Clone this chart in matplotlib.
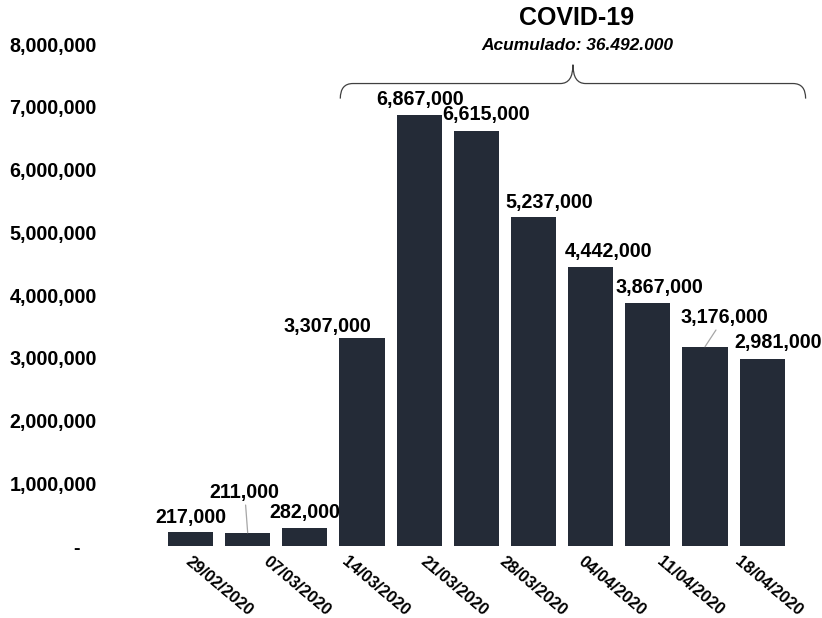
import numpy as np
import matplotlib
matplotlib.use("Agg")
import matplotlib.pyplot as plt
from matplotlib.path import Path
from matplotlib.patches import PathPatch
from matplotlib.ticker import FuncFormatter

# datos semanales
valores = [217000, 211000, 282000, 3307000, 6867000, 6615000,
           5237000, 4442000, 3867000, 3176000, 2981000]
fechas = ["29/02/2020", "07/03/2020", "14/03/2020", "21/03/2020",
          "28/03/2020", "04/04/2020", "11/04/2020", "18/04/2020"]
titulo = "COVID-19"
subtitulo = "Acumulado: 36.492.000"

# desplazamiento de las etiquetas (pixeles) y cuales llevan linea guia
offsets = [(0, 15), (-3, 40), (0, 16), (-35, 12), (1, 16), (10, 16),
           (16, 15), (18, 16), (12, 16), (19, 29), (16, 16)]
guias = [False, True, False, False, False, False,
         False, False, False, True, False]

plt.rcParams['font.family'] = ['Liberation Sans', 'DejaVu Sans']
plt.rcParams['font.weight'] = 'bold'

color_barra = "#242b37"

fig = plt.figure(figsize=(8.22, 6.18), dpi=100)
ax = fig.add_axes([0.197, 0.1165, 0.765, 0.8123])

x = np.arange(len(valores))
ax.bar(x, valores, width=0.79, color=color_barra)

ax.set_xlim(-0.5, len(valores) - 0.5)
ax.set_ylim(0, 8000000)
ax.set_yticks(np.arange(0, 8000001, 1000000))
ax.yaxis.set_major_formatter(FuncFormatter(lambda v, _: "-   " if v == 0 else f"{v:,.0f}"))
ax.tick_params(axis='y', length=0, pad=47, labelsize=14.2)

# etiquetas de fecha repartidas sobre todo el ancho
n = len(fechas)
pos = -0.5 + (np.arange(n) + 0.5) * len(valores) / n - 0.25
ax.set_xticks(pos)
ax.set_xticklabels(fechas, rotation=-40, ha='left', va='center',
                   rotation_mode='anchor', fontsize=12, fontweight='bold')
ax.tick_params(axis='x', length=0, pad=10)

for s in ax.spines.values():
    s.set_visible(False)

# etiquetas de datos
for i, v in enumerate(valores):
    dx, dy = offsets[i]
    props = None
    if guias[i]:
        props = dict(arrowstyle='-', color='#a6a6a6', lw=0.9,
                     shrinkA=0, shrinkB=0)
    ax.annotate(f"{v:,}", xy=(i, v), xytext=(dx, dy),
                textcoords='offset pixels', ha='center', va='center',
                fontsize=14.2, fontweight='bold', color='black',
                arrowprops=props, annotation_clip=False)

# llave sobre las barras 4 a 11
x0, x1 = 3 - 0.38, len(valores) - 0.5 + 0.26
xm = (x0 + x1) / 2
yb, yl, yc = 7130000, 7370000, 7670000
r = 0.22
verts = [(x0, yb), (x0, yl), (x0 + r, yl),
         (xm - r, yl), (xm, yl), (xm, yc),
         (xm, yl), (xm + r, yl),
         (x1 - r, yl), (x1, yl), (x1, yb)]
codes = [Path.MOVETO, Path.CURVE3, Path.CURVE3,
         Path.LINETO, Path.CURVE3, Path.CURVE3,
         Path.CURVE3, Path.CURVE3,
         Path.LINETO, Path.CURVE3, Path.CURVE3]
brace = PathPatch(Path(verts, codes), fill=False, lw=0.9,
                  edgecolor='#404040', clip_on=False)
ax.add_patch(brace)

fig.text(0.702, 0.971, titulo, ha='center', va='center',
         fontsize=18, fontweight='bold')
fig.text(0.702, 0.927, subtitulo, ha='center', va='center',
         fontsize=12.5, fontweight='bold', fontstyle='italic')

fig.savefig("out.png", dpi=100)
